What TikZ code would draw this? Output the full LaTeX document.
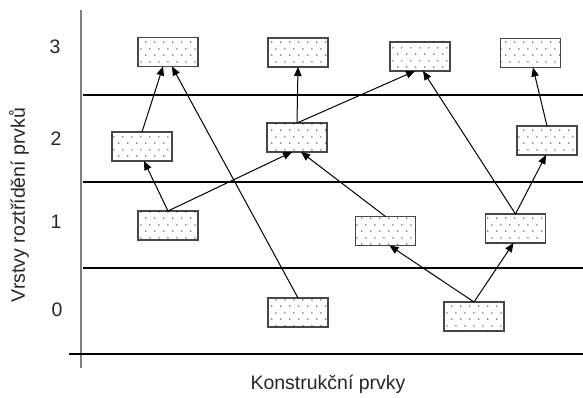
\documentclass[tikz,border=0pt]{standalone}
\usepackage{fontspec}
\setmainfont{Liberation Sans}
\usetikzlibrary{arrows.meta,patterns.meta}

% sparse staggered dot fill for the element boxes
\tikzdeclarepattern{
  name=sparsedots,
  type=uncolored,
  bounding box={(0pt,0pt) and (9pt,12.6pt)},
  tile size={(9pt,12.6pt)},
  code={
    \fill (2pt,3pt) circle (0.7pt);
    \fill (6.5pt,9.3pt) circle (0.7pt);
  }
}

\tikzset{
  elem/.style={draw=black!72, line width=1.8pt, fill=white,
    postaction={pattern=sparsedots, pattern color=black},
    minimum width=60pt, minimum height=29pt, inner sep=0pt, outer sep=0pt},
  layer/.style={line width=1.8pt, black},
  axis/.style={line width=1.8pt, black!50},
  dep/.style={line width=1pt, black, -{Triangle[length=9pt,width=7.5pt]}},
  lbl/.style={font=\fontsize{19.5}{23}\selectfont, inner sep=0pt, text=black!85}
}

\begin{document}
\begin{tikzpicture}[x=1pt,y=-1pt]
\useasboundingbox (0,0) rectangle (583,398);

% axis and layer separators
\draw[axis] (81,10) -- (81,368);
\draw[layer] (83,95) -- (583,95);
\draw[layer] (83,182) -- (583,182);
\draw[layer] (83,268) -- (583,268);
\draw[layer] (69,354) -- (583,354);

% layer numbers and axis titles
\node[lbl] (n3) at (55,47) {3};
\node[lbl] (n2) at (56,139) {2};
\node[lbl] (n1) at (56,222) {1};
\node[lbl] (n0) at (57,310) {0};
\node[lbl, rotate=90] (ylab) at (19,205) {Vrstvy roztřídění prvků};
\node[lbl] (xlab) at (328,384) {Konstrukční prvky};

% elements, layer 3
\node[elem] (A3) at (168,52) {};
\node[elem] (B3) at (298,52.5) {};
\node[elem] (C3) at (420,56.5) {};
\node[elem] (D3) at (530.5,53) {};
% layer 2
\node[elem] (A2) at (142,146.5) {};
\node[elem] (B2) at (297,137.5) {};
\node[elem] (D2) at (547,140.5) {};
% layer 1
\node[elem] (A1) at (168,225.5) {};
\node[elem] (C1) at (385.5,231) {};
\node[elem] (D1) at (515.5,228.5) {};
% layer 0
\node[elem] (B0) at (298,312.5) {};
\node[elem] (C0) at (474,316.5) {};

% dependencies
\draw[dep] (A2.north) -- ([xshift=-5pt]A3.south);
\draw[dep] (B0.north) -- ([xshift=4pt]A3.south);
\draw[dep] (A1.north) -- ([xshift=2pt]A2.south);
\draw[dep] (A1.north) -- ([xshift=-5pt]B2.south);
\draw[dep] (C1.north) -- ([xshift=4pt]B2.south);
\draw[dep] (B2.north) -- (B3.south);
\draw[dep] (B2.north) -- ([xshift=-5pt]C3.south);
\draw[dep] (D1.north) -- ([xshift=3pt]C3.south);
\draw[dep] (D1.north) -- ([xshift=-1pt]D2.south);
\draw[dep] (D2.north) -- ([xshift=2.5pt]D3.south);
\draw[dep] (C0.north) -- ([xshift=4pt]C1.south);
\draw[dep] (C0.north) -- ([xshift=-2pt]D1.south);
\end{tikzpicture}
\end{document}
